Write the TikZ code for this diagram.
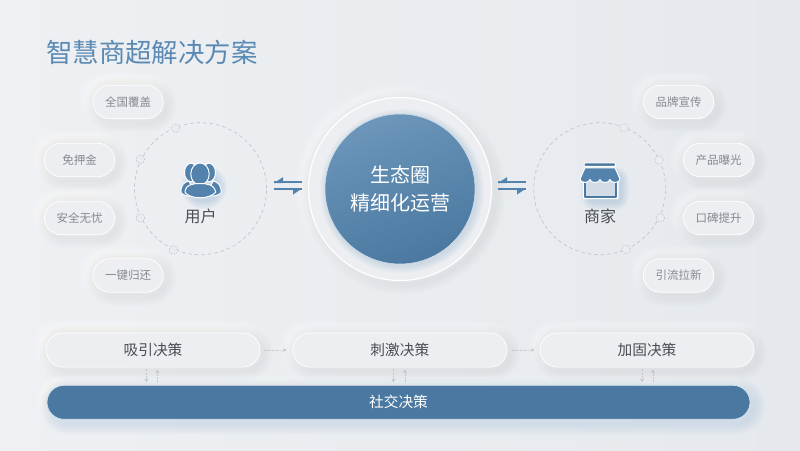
\documentclass[tikz,border=0pt]{standalone}
\usepackage{fontspec}
\setmainfont{Noto Sans CJK SC}
\usetikzlibrary{arrows.meta,calc}
\definecolor{bgA}{HTML}{EEF0F3}
\definecolor{bgB}{HTML}{E5E9ED}
\definecolor{pillfill}{HTML}{ECEEF1}
\definecolor{steel}{HTML}{4A78A0}
\definecolor{steelL}{HTML}{6C96BA}
\definecolor{iconblue}{HTML}{5383AD}
\definecolor{titleblue}{HTML}{5A8AB4}
\definecolor{greytxt}{HTML}{85898E}
\definecolor{darktxt}{HTML}{4A4D51}
\definecolor{ringgrey}{HTML}{C2C6CB}
\definecolor{shadowgrey}{HTML}{A4AFBA}
\definecolor{shadowblue}{HTML}{7CA6CE}
\newcommand\fsz[1]{\fontsize{#1}{#1}\selectfont}
% x1 y1 x2 y2 radius colour offset spread opacity
\newcommand\softrect[9]{%
  \foreach \e in {1,0.85,0.7,0.55,0.4,0.25,0.1}{%
    \pgfmathsetmacro\ee{\e*#8}%
    \pgfmathsetmacro\ra{#5+\ee}%
    \fill[#6,fill opacity=#9,rounded corners=\ra pt]
      ({#1-\ee+#7},{#2-\ee+#7}) rectangle ({#3+\ee+#7},{#4+\ee+#7});
  }}
\newcommand\neu[5]{% x1 y1 x2 y2 radius
  \softrect{#1}{#2}{#3}{#4}{#5}{white}{-3}{10}{0.09}
  \softrect{#1}{#2}{#3}{#4}{#5}{shadowgrey}{3}{10}{0.022}}
\newcommand\smallpill[4]{% name cx cy text
  \neu{#2-35.5}{#3-17}{#2+35.5}{#3+17}{17}
  \node[smallp] (#1) at (#2,#3) {#4};}
\newcommand\widepill[5]{% name x1 x2 cy text
  \neu{#2}{#4-17.3}{#3}{#4+17.3}{17.3}
  \node[widep,minimum width={(#3-#2)*1pt}] (#1) at ({(#2+#3)/2},#4) {#5};}
\tikzset{
  x=1pt,y=-1pt,
  smallp/.style={draw=white,line width=0.7pt,fill=pillfill,rounded corners=17pt,minimum width=70.5pt,minimum height=33.5pt,inner sep=0pt,text=greytxt,font=\fsz{11.5}},
  widep/.style={draw=white,line width=0.7pt,fill=pillfill,rounded corners=17.3pt,minimum height=34.2pt,inner sep=0pt,text=darktxt,font=\fsz{14.7}},
  ringnode/.style={circle,draw=ringgrey,dash pattern=on 3.5pt off 3pt,line width=0.7pt,minimum size=132pt,inner sep=0pt},
  dotnode/.style={circle,draw=ringgrey,dash pattern=on 1.6pt off 1.2pt,line width=0.6pt,fill=bgB!50!bgA,minimum size=8.5pt,inner sep=0pt},
  harp/.style={draw=iconblue,line width=1.7pt},
  flowarrow/.style={draw=ringgrey,line width=0.8pt,dash pattern=on 1.5pt off 1.2pt,-{Stealth[length=4pt,width=3.5pt]}},
  vertarrow/.style={draw=ringgrey,line width=0.8pt,dash pattern=on 2pt off 1.3pt,-{Stealth[length=4pt,width=4pt]}},
  iconfill/.style={fill=iconblue,draw=white,line width=1pt},
}
\begin{document}
\begin{tikzpicture}
\useasboundingbox (0,0) rectangle (800,450);
\shade[left color=bgA,right color=bgB] (0,0) rectangle (800,450);

\node[anchor=west,inner sep=0pt,text=titleblue,font=\fsz{26.4}] (title) at (46,52) {智慧商超解决方案};

% rings
\node[ringnode] (ringL) at (200.5,188.7) {};
\node[ringnode] (ringR) at (599.7,188.7) {};
\node[dotnode] (dl1) at (175.7,128.3) {};
\node[dotnode] (dl2) at (140.3,159.3) {};
\node[dotnode] (dl3) at (140.3,218) {};
\node[dotnode] (dl4) at (173.3,250) {};
\node[dotnode] (dr1) at (624,128) {};
\node[dotnode] (dr2) at (659,160) {};
\node[dotnode] (dr3) at (660.3,218) {};
\node[dotnode] (dr4) at (626,249.5) {};

% small pills
\smallpill{pa}{128}{102}{全国覆盖}
\smallpill{pb}{79.5}{160}{免押金}
\smallpill{pc}{79.5}{218}{安全无忧}
\smallpill{pd}{128}{275.5}{一键归还}
\smallpill{qa}{678.5}{102}{品牌宣传}
\smallpill{qb}{718.5}{160}{产品曝光}
\smallpill{qc}{718.5}{218}{口碑提升}
\smallpill{qd}{678.5}{275.5}{引流拉新}

% hub
\neu{308}{97}{492}{281}{92}
\fill[pillfill,draw=white,line width=1.2pt] (400,189) circle (91.5);
\softrect{325}{114}{475}{264}{75}{shadowblue}{2}{7}{0.04}
\node[circle,minimum size=150pt,inner sep=0pt,draw=white!70!steelL,line width=0.5pt,top color=steelL,bottom color=steel,shading angle=20] (hub) at (400,189) {};
\node[text=white,font=\fsz{20},align=center,inner sep=0pt] (hubA) at (400,175) {生态圈};
\node[text=white,font=\fsz{20},align=center,inner sep=0pt] (hubB) at (400,203) {精细化运营};

% user icon
\softrect{186}{170}{216}{198}{14}{shadowblue}{3}{8}{0.05}
\path[iconfill] (191,172.5) ellipse (6.5 and 9.3);
\path[iconfill] (209,172.5) ellipse (6.5 and 9.3);
\path[iconfill] (181,193) .. controls (180.5,185) and (184,182) .. (189,181) -- (193,190) -- (190,196) .. controls (186,196) and (183,195) .. (181,193) -- cycle;
\path[iconfill] (221,193) .. controls (221.5,185) and (218,182) .. (213,181) -- (209,190) -- (212,196) .. controls (216,196) and (219,195) .. (221,193) -- cycle;
\path[iconfill] (200,174) ellipse (9.2 and 11);
\path[iconfill] (185,191) .. controls (186,185) and (192,183.5) .. (200,183.5) .. controls (208,183.5) and (214,185) .. (215.5,191) -- (215.5,192.5) .. controls (212,196) and (206,197.8) .. (200,197.8) .. controls (194,197.8) and (188,196) .. (185,192.5) -- cycle;
\node[text=darktxt,font=\fsz{16},inner sep=0pt] (userT) at (200.5,216) {用户};

% shop icon
\softrect{586}{172}{618}{199}{6}{shadowblue}{3}{8}{0.05}
\fill[white,rounded corners=0.8pt] (583,176) rectangle (618.5,199.2);
\draw[steel,line width=2.2pt,line join=round,fill=steelL!22!bgA] (585.3,178) rectangle (616,197);
\fill[steel,draw=white,line width=1pt,rounded corners=1pt] (584,162.8) rectangle (615.5,166.3);
\path[fill=iconblue,draw=white,line width=1pt,line join=round] (585,167.8) -- (615,167.8) -- (620,179)
  .. controls (620,183.5) and (610.5,183.5) .. (610,179.5)
  .. controls (609.5,183.5) and (600.5,183.5) .. (600,179.5)
  .. controls (599.5,183.5) and (590.5,183.5) .. (590,179.5)
  .. controls (589.5,183.5) and (580,183.5) .. (580,179) -- cycle;
\node[text=darktxt,font=\fsz{16},inner sep=0pt] (shopT) at (600,216) {商家};

% harpoons
\coordinate (hlA) at (274,182.3); \coordinate (hlB) at (302,182.3);
\coordinate (hlC) at (274,189.3); \coordinate (hlD) at (302,189.3);
\coordinate (hrA) at (498,182.3); \coordinate (hrB) at (526,182.3);
\coordinate (hrC) at (498,189.3); \coordinate (hrD) at (526,189.3);
\foreach \a/\b/\c/\d in {hlA/hlB/hlC/hlD,hrA/hrB/hrC/hrD}{
  \draw[harp] (\a) -- (\b);
  \draw[harp] (\c) -- (\d);
  \fill[iconblue] ($(\a)+(0,0.8)$) -- ++(9,-6) -- ++(0,6) -- cycle;
  \fill[iconblue] ($(\d)+(0,-0.8)$) -- ++(-9,6) -- ++(0,-6) -- cycle;
}

% decision pills
\widepill{da}{46}{260}{350}{吸引决策}
\widepill{db}{292.7}{507}{350}{刺激决策}
\widepill{dc}{540}{754}{350}{加固决策}

% social bar
\softrect{47}{385.3}{750}{419.3}{17}{white}{-3}{8}{0.08}
\softrect{47}{385.3}{750}{419.3}{17}{shadowblue}{4}{11}{0.03}
\node[draw=white!75!steelL,line width=0.7pt,fill=steel,rounded corners=17pt,minimum width=703pt,minimum height=34pt,inner sep=0pt,text=white,font=\fsz{14.7}] (social) at (398.5,402.3) {社交决策};

% connectors
\draw[flowarrow,shorten <=4pt,shorten >=5.5pt] (da.east) -- (db.west);
\draw[flowarrow,shorten <=5pt,shorten >=5pt] (db.east) -- (dc.west);
\foreach \t/\xa/\xb in {da/146.5/157.5,db/393.5/405,dc/642/653}{
  \coordinate (tA) at (\xa,0); \coordinate (tB) at (\xb,0);
  \draw[vertarrow,shorten <=2pt,shorten >=2.5pt] (\t.south -| tA) -- (social.north -| tA);
  \draw[vertarrow,shorten <=2.5pt,shorten >=2pt] (social.north -| tB) -- (\t.south -| tB);
}
\end{tikzpicture}
\end{document}
